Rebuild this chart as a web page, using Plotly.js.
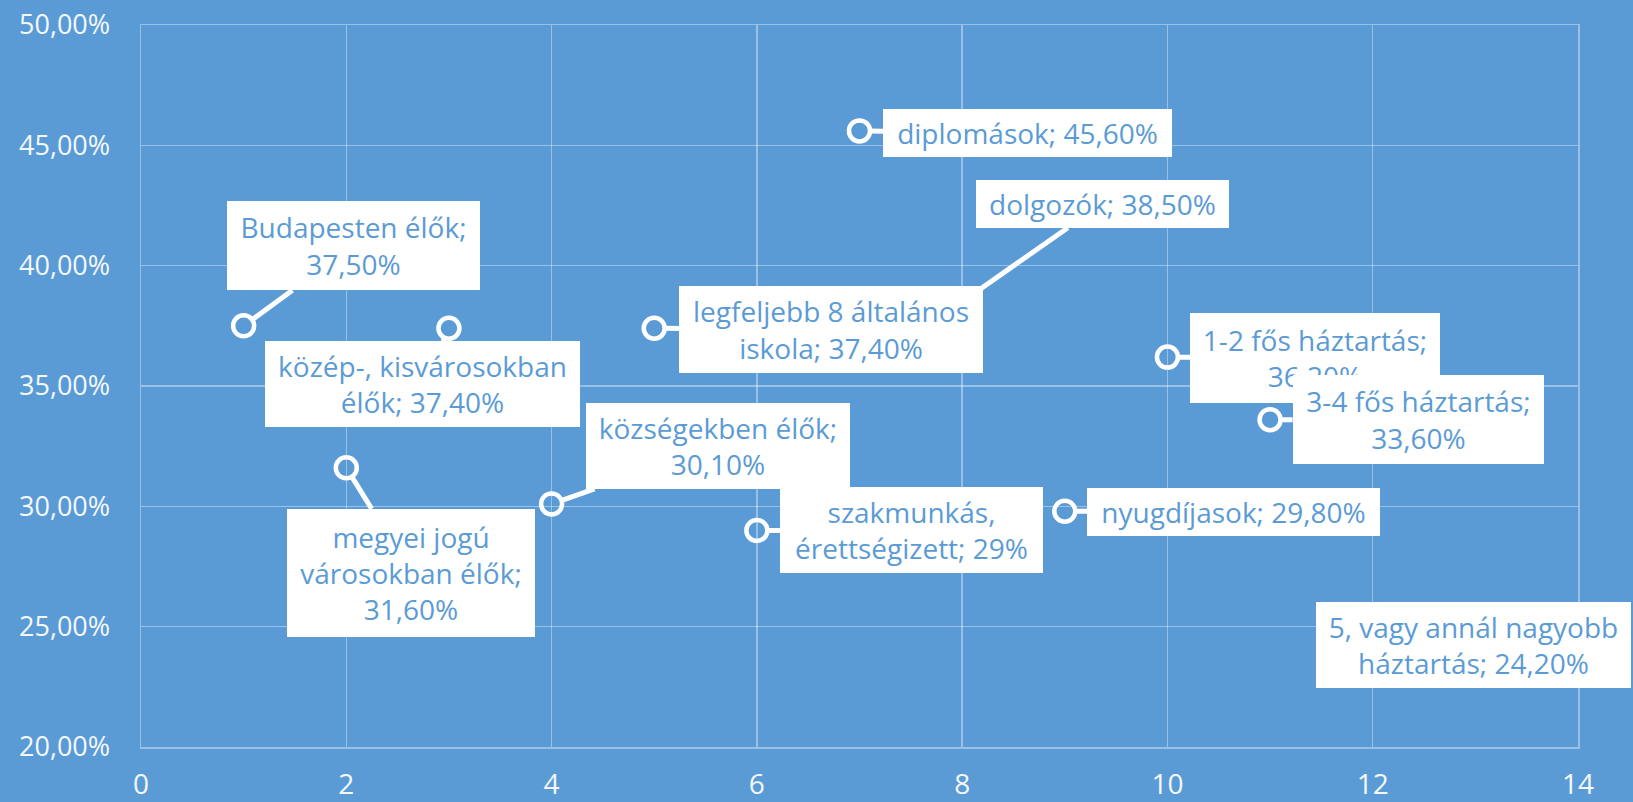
<!DOCTYPE html>
<html>
<head>
<meta charset="utf-8">
<script src="https://cdn.plot.ly/plotly-3.0.1.min.js"></script>
<style>
  html, body { margin: 0; padding: 0; background: #5b9bd5; }
  #chart { width: 1633px; height: 802px; }
</style>
</head>
<body>
<div id="chart"></div>
<script>
// ---- data ----
const categories = [
  'Budapesten élők',
  'megyei jogú városokban élők',
  'közép-, kisvárosokban élők',
  'községekben élők',
  'legfeljebb 8 általános iskola',
  'szakmunkás, érettségizett',
  'diplomások',
  'dolgozók',
  'nyugdíjasok',
  '1-2 fős háztartás',
  '3-4 fős háztartás',
  '5, vagy annál nagyobb háztartás'
];
const xValues = [1, 2, 3, 4, 5, 6, 7, 8, 9, 10, 11, 12];
const yValues = [37.5, 31.6, 37.4, 30.1, 37.4, 29.0, 45.6, 38.5, 29.8, 36.2, 33.6, 24.2];
const labelTexts = [
  'Budapesten élők;<br>37,50%',
  'megyei jogú<br>városokban élők;<br>31,60%',
  'közép-, kisvárosokban<br>élők; 37,40%',
  'községekben élők;<br>30,10%',
  'legfeljebb 8 általános<br>iskola; 37,40%',
  'szakmunkás,<br>érettségizett; 29%',
  'diplomások; 45,60%',
  'dolgozók; 38,50%',
  'nyugdíjasok; 29,80%',
  '1-2 fős háztartás;<br>36,20%',
  '3-4 fős háztartás;<br>33,60%',
  '5, vagy annál nagyobb<br>háztartás; 24,20%'
];
const xTickVals = [0, 2, 4, 6, 8, 10, 12, 14];
const xTickLabels = ['0', '2', '4', '6', '8', '10', '12', '14'];
const yTickVals = [20, 25, 30, 35, 40, 45, 50];
const yTickLabels = ['20,00%', '25,00%', '30,00%', '35,00%', '40,00%', '45,00%', '50,00%'];

// ---- label box layout (pixel offsets from point, box size) ----
const labelLayout = [
  {ax: 110, ay: -80, w: 253, h: 89},
  {ax: 65, ay: 105, w: 248, h: 128},
  {ax: -26, ay: 56, w: 315, h: 86},
  {ax: 166, ay: -58, w: 264, h: 86},
  {ax: 177, ay: 1, w: 304, h: 87},
  {ax: 155, ay: 0, w: 263, h: 86},
  {ax: 168, ay: 2, w: 289, h: 48},
  {ax: 140, ay: -98, w: 253, h: 48},
  {ax: 169, ay: 1, w: 293, h: 48},
  {ax: 148, ay: 1, w: 250, h: 90},
  {ax: 148, ay: 0, w: 251, h: 89},
  {ax: 101, ay: -1, w: 315, h: 86, noArrow: true}
];

const BG = '#5b9bd5';
const GRID = 'rgba(255,255,255,0.38)';
const LABEL_COLOR = '#5b9bd5';
const TICK_COLOR = '#f4f8fc';

const annotations = xValues.map((x, i) => {
  const L = labelLayout[i];
  const a = {
    x: x, y: yValues[i], xref: 'x', yref: 'y',
    text: labelTexts[i],
    font: {family: 'Open Sans, sans-serif', size: 28, color: LABEL_COLOR},
    bgcolor: '#ffffff',
    borderpad: 0,
    borderwidth: 0,
    width: L.w, height: L.h,
    align: 'center', valign: 'middle'
  };
  if (L.noArrow) {
    a.showarrow = false;
    a.xshift = L.ax;
    a.yshift = -L.ay;
  } else {
    a.showarrow = true;
    a.ax = L.ax; a.ay = L.ay;
    a.axref = 'pixel'; a.ayref = 'pixel';
    a.arrowhead = 0;
    a.arrowwidth = 5;
    a.arrowcolor = '#ffffff';
    a.standoff = 11;
  }
  return a;
});

const trace = {
  type: 'scatter',
  mode: 'markers',
  x: xValues,
  y: yValues,
  text: categories,
  hoverinfo: 'text+y',
  marker: {
    symbol: 'circle-open',
    size: 21,
    color: '#ffffff',
    line: {color: '#ffffff', width: 4.5}
  },
  showlegend: false
};

const layout = {
  width: 1633, height: 802,
  paper_bgcolor: BG,
  plot_bgcolor: BG,
  margin: {l: 141, r: 55, t: 25, b: 55, pad: 0},
  showlegend: false,
  xaxis: {
    range: [0, 14],
    tickvals: xTickVals,
    ticktext: xTickLabels,
    showgrid: true, gridcolor: GRID, gridwidth: 1.5,
    zeroline: false,
    showline: true, linecolor: GRID, linewidth: 1.5, mirror: true,
    ticks: '',
    ticklabelstandoff: 12,
    tickfont: {family: 'Open Sans, sans-serif', size: 28, color: TICK_COLOR}
  },
  yaxis: {
    range: [20, 50],
    tickvals: yTickVals,
    ticktext: yTickLabels,
    showgrid: true, gridcolor: GRID, gridwidth: 1.5,
    zeroline: false,
    showline: true, linecolor: GRID, linewidth: 1.5, mirror: true,
    ticks: '',
    ticklabelstandoff: 24,
    tickfont: {family: 'Open Sans, sans-serif', size: 27, color: TICK_COLOR}
  },
  annotations: annotations
};

Plotly.newPlot('chart', [trace], layout, {displayModeBar: false, staticPlot: true});
</script>
</body>
</html>
